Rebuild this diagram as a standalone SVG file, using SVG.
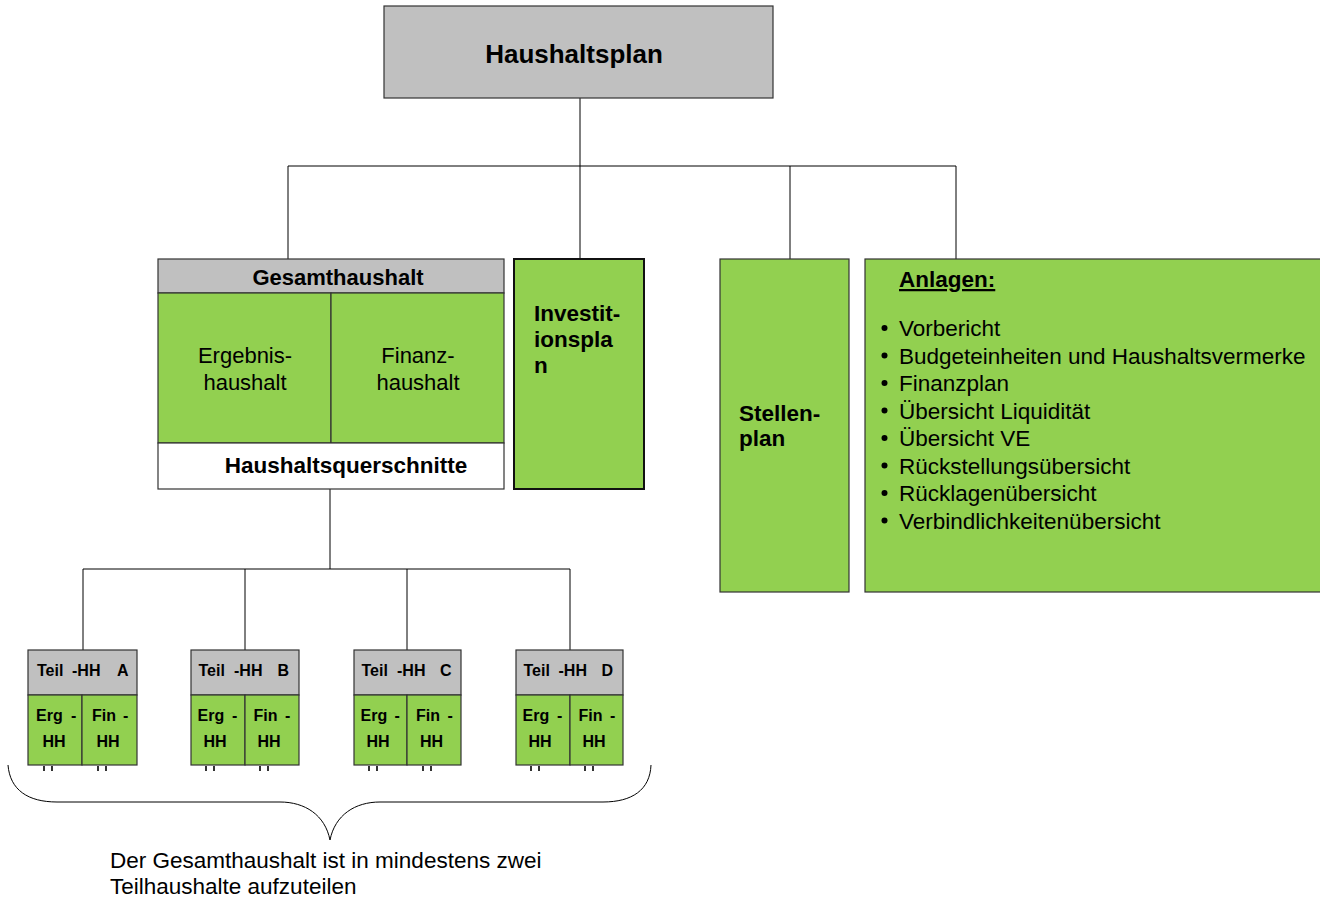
<svg xmlns="http://www.w3.org/2000/svg" width="1320" height="897" viewBox="0 0 1320 897">
<style>
text{font-family:"Liberation Sans",Arial,sans-serif;fill:#000;white-space:pre}
.b{font-weight:bold}
.g{fill:#c0c0c0;stroke:#333;stroke-width:1.2}
.gr{fill:#92d050;stroke:#333;stroke-width:1.2}
.w{fill:#fff;stroke:#333;stroke-width:1.2}
.c{fill:none;stroke:#000;stroke-width:1}
.t{font-size:16px;font-weight:bold}
.l{font-size:22.5px}
.m{text-anchor:middle}
</style>
<rect width="1320" height="897" fill="#fff"/>
<g id="connectors">
<path class="c" d="M580,98V166M288,166H956M288,166V259M580,166V259M790,166V259M956,166V259"/>
<path class="c" d="M330,489V569M83,569H570M83,569V650M245,569V650M407,569V650M570,569V650"/>
<path class="c" d="M8,765C10,790 28,802 57,802H280C305,802 325,815 330,840C335,815 355,802 380,802H603C632,802 650,790 651,765"/>
</g>
<g id="haushaltsplan">
<rect class="g" x="384" y="6" width="389" height="92"/>
<text class="b m" x="574" y="63" font-size="26">Haushaltsplan</text>
</g>
<g id="gesamthaushalt">
<rect class="g" x="158" y="259" width="346" height="34"/>
<rect class="gr" x="158" y="293" width="173" height="150"/>
<rect class="gr" x="331" y="293" width="173" height="150"/>
<rect class="w" x="158" y="443" width="346" height="46"/>
<text class="b m" x="338" y="285" font-size="22">Gesamthaushalt</text>
<text class="m" x="245" y="363" font-size="22">Ergebnis-</text>
<text class="m" x="245" y="390" font-size="22">haushalt</text>
<text class="m" x="418" y="363" font-size="22">Finanz-</text>
<text class="m" x="418" y="390" font-size="22">haushalt</text>
<text class="b m" x="346" y="473" font-size="22.5">Haushaltsquerschnitte</text>
</g>
<g id="investitionsplan">
<rect x="514" y="259" width="130" height="230" fill="#92d050" stroke="#111" stroke-width="2"/>
<text class="b" x="534" y="321" font-size="22.5">Investit-</text>
<text class="b" x="534" y="347" font-size="22.5">ionspla</text>
<text class="b" x="534" y="373" font-size="22.5">n</text>
</g>
<g id="stellenplan">
<rect class="gr" x="720" y="259" width="129" height="333"/>
<text class="b" x="739" y="421" font-size="22.5">Stellen-</text>
<text class="b" x="739" y="446" font-size="22.5">plan</text>
</g>
<g id="anlagen">
<rect class="gr" x="865" y="259" width="460" height="333"/>
<text class="b" x="899" y="287" font-size="22.5" text-decoration="underline">Anlagen:</text>
<g fill="#000">
<circle cx="884.5" cy="328" r="3"/><circle cx="884.5" cy="355.5" r="3"/><circle cx="884.5" cy="383" r="3"/><circle cx="884.5" cy="410.5" r="3"/>
<circle cx="884.5" cy="438" r="3"/><circle cx="884.5" cy="465.5" r="3"/><circle cx="884.5" cy="493" r="3"/><circle cx="884.5" cy="520.5" r="3"/>
</g>
<g class="l">
<text x="899" y="336">Vorbericht</text>
<text x="899" y="363.5">Budgeteinheiten und Haushaltsvermerke</text>
<text x="899" y="391">Finanzplan</text>
<text x="899" y="418.5">Übersicht Liquidität</text>
<text x="899" y="446">Übersicht VE</text>
<text x="899" y="473.5">Rückstellungsübersicht</text>
<text x="899" y="501">Rücklagenübersicht</text>
<text x="899" y="528.5">Verbindlichkeitenübersicht</text>
</g>
</g>
<g id="teil-a" transform="translate(28,0)">
<rect class="g" x="0" y="650" width="109" height="45"/>
<rect class="gr" x="0" y="695" width="54" height="70"/>
<rect class="gr" x="54" y="695" width="55" height="70"/>
<text class="t" x="9" y="676">Teil</text><text class="t" x="44" y="676">-HH</text><text class="t" x="89" y="676">A</text>
<text class="t" x="8" y="721">Erg</text><text class="t" x="43" y="721">-</text>
<text class="t" x="14.5" y="747">HH</text>
<text class="t" x="64" y="721">Fin</text><text class="t" x="95" y="721">-</text>
<text class="t" x="68.5" y="747">HH</text>
</g>
<g id="teil-b" transform="translate(191,0)">
<rect class="g" x="0" y="650" width="108" height="45"/>
<rect class="gr" x="0" y="695" width="54" height="70"/>
<rect class="gr" x="54" y="695" width="54" height="70"/>
<text class="t" x="7.5" y="676">Teil</text><text class="t" x="43" y="676">-HH</text><text class="t" x="86.5" y="676">B</text>
<text class="t" x="6.5" y="721">Erg</text><text class="t" x="41" y="721">-</text>
<text class="t" x="12.5" y="747">HH</text>
<text class="t" x="62.5" y="721">Fin</text><text class="t" x="94" y="721">-</text>
<text class="t" x="66.5" y="747">HH</text>
</g>
<g id="teil-c" transform="translate(354,0)">
<rect class="g" x="0" y="650" width="107" height="45"/>
<rect class="gr" x="0" y="695" width="53" height="70"/>
<rect class="gr" x="53" y="695" width="54" height="70"/>
<text class="t" x="7.5" y="676">Teil</text><text class="t" x="43" y="676">-HH</text><text class="t" x="86" y="676">C</text>
<text class="t" x="6.5" y="721">Erg</text><text class="t" x="40.5" y="721">-</text>
<text class="t" x="12.5" y="747">HH</text>
<text class="t" x="62" y="721">Fin</text><text class="t" x="93.5" y="721">-</text>
<text class="t" x="66" y="747">HH</text>
</g>
<g id="teil-d" transform="translate(516,0)">
<rect class="g" x="0" y="650" width="107" height="45"/>
<rect class="gr" x="0" y="695" width="54" height="70"/>
<rect class="gr" x="54" y="695" width="53" height="70"/>
<text class="t" x="7.5" y="676">Teil</text><text class="t" x="42.5" y="676">-HH</text><text class="t" x="85.5" y="676">D</text>
<text class="t" x="6.5" y="721">Erg</text><text class="t" x="41" y="721">-</text>
<text class="t" x="12.5" y="747">HH</text>
<text class="t" x="62.5" y="721">Fin</text><text class="t" x="94" y="721">-</text>
<text class="t" x="66.5" y="747">HH</text>
</g>
<g id="overflow-marks" stroke="#000" stroke-width="1.6">
<path d="M44,766V771M52,766V771M98,766V771M106,766V771M206,766V771M214,766V771M260,766V771M268,766V771M369,766V771M377,766V771M423,766V771M431,766V771M531,766V771M539,766V771M585,766V771M593,766V771"/>
</g>
<g id="note">
<text x="110" y="868" font-size="22.5">Der Gesamthaushalt ist in mindestens zwei</text>
<text x="110" y="894" font-size="22.5">Teilhaushalte aufzuteilen</text>
</g>
</svg>
